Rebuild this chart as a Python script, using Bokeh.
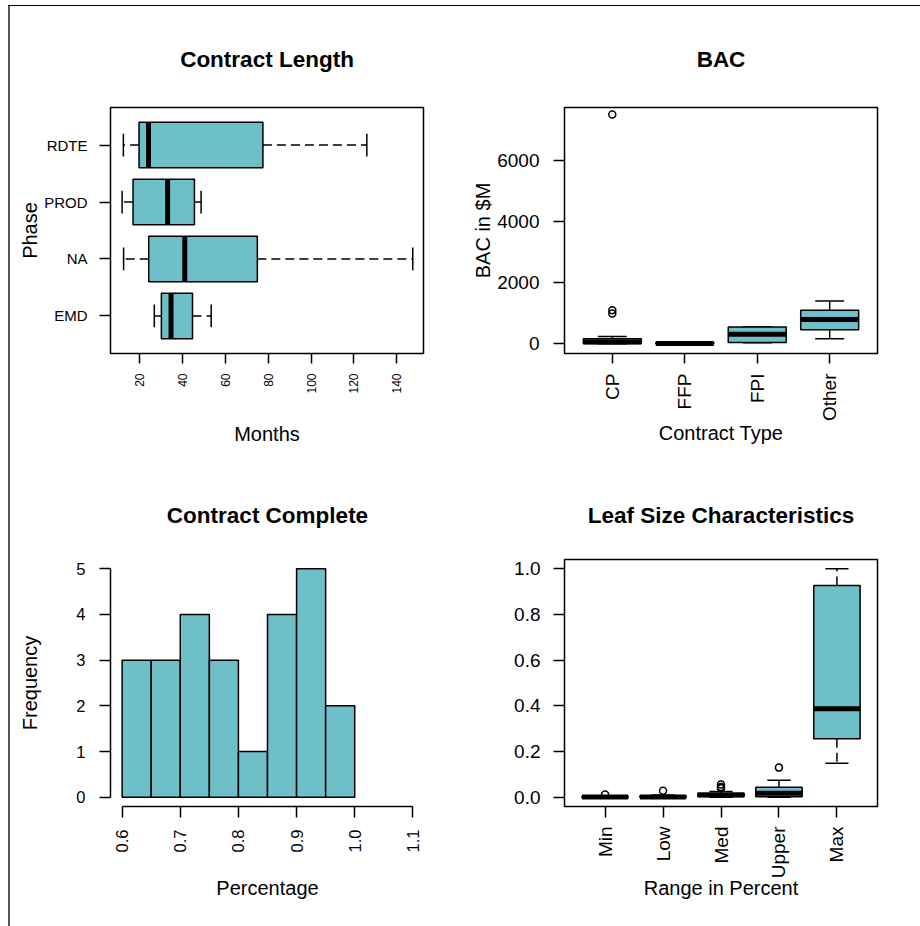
import math
from bokeh.plotting import figure
from bokeh.models import Range1d, FixedTicker, NumeralTickFormatter, Div
from bokeh.layouts import row, column
from bokeh.embed import file_html
from bokeh.resources import INLINE

FILL = "#6FBFC8"
FONT = "Liberation Sans"
DASH = "9 5"

# ---- Panel 1: Contract Length (horizontal boxplot) ----
phase = ["EMD", "NA", "PROD", "RDTE"]
phase_lo = [27.0, 12.7, 12.0, 12.6]
phase_q1 = [30.3, 24.4, 17.1, 19.9]
phase_med = [34.8, 41.2, 33.2, 24.3]
phase_q3 = [44.8, 75.0, 45.7, 77.6]
phase_hi = [53.5, 147.4, 48.8, 126.0]
months_ticks = [20, 40, 60, 80, 100, 120, 140]

# ---- Panel 2: BAC (vertical boxplot) ----
ctype = ["CP", "FFP", "FPI", "Other"]
bac_lo = [0, 0, 30, 165]
bac_q1 = [10, 2, 40, 460]
bac_med = [60, 10, 310, 790]
bac_q3 = [160, 30, 550, 1097]
bac_hi = [240, 45, 560, 1400]
bac_out_group = ["CP", "CP", "CP"]
bac_out = [990, 1100, 7510]
bac_ticks = [0, 2000, 4000, 6000]

# ---- Panel 3: Contract Complete (histogram) ----
pct_edges = [0.60, 0.65, 0.70, 0.75, 0.80, 0.85, 0.90, 0.95, 1.00]
pct_counts = [3, 3, 4, 3, 1, 4, 5, 2]
pct_ticks = [0.6, 0.7, 0.8, 0.9, 1.0, 1.1]
freq_ticks = [0, 1, 2, 3, 4, 5]

# ---- Panel 4: Leaf Size Characteristics (vertical boxplot) ----
rng = ["Min", "Low", "Med", "Upper", "Max"]
leaf_lo = [0.0, 0.0, 0.0, 0.0, 0.149]
leaf_q1 = [0.0, 0.0, 0.004, 0.003, 0.256]
leaf_med = [0.001, 0.001, 0.010, 0.018, 0.387]
leaf_q3 = [0.004, 0.006, 0.018, 0.044, 0.926]
leaf_hi = [0.006, 0.010, 0.026, 0.075, 1.0]
leaf_out_group = ["Min", "Low", "Med", "Med", "Med", "Upper"]
leaf_out = [0.012, 0.029, 0.040, 0.045, 0.056, 0.130]
leaf_ticks = [0.0, 0.2, 0.4, 0.6, 0.8, 1.0]

BW = 0.8
UP = math.pi / 2


def base_fig(w, h, bl, br, bt, bb, xr, yr, title, tstand):
    p = figure(width=w, height=h, x_range=xr, y_range=yr,
               output_backend="svg", toolbar_location=None,
               min_border_left=bl, min_border_right=br,
               min_border_top=bt, min_border_bottom=bb)
    p.title.text = title
    p.title.text_font = FONT
    p.title.text_font_size = "22.5px"
    p.title.text_font_style = "bold"
    p.title.text_color = "black"
    p.title.align = "center"
    p.title.standoff = tstand
    p.xgrid.visible = False
    p.ygrid.visible = False
    p.outline_line_color = "black"
    p.outline_line_width = 1.5
    p.background_fill_color = "white"
    p.border_fill_color = "white"
    for ax in (p.xaxis[0], p.yaxis[0]):
        ax.axis_line_color = None
        ax.major_tick_in = 0
        ax.major_tick_out = 10
        ax.major_tick_line_width = 1.5
        ax.minor_tick_line_color = None
        ax.major_label_text_font = FONT
        ax.major_label_text_color = "black"
        ax.axis_label_text_font = FONT
        ax.axis_label_text_font_style = "normal"
        ax.axis_label_text_font_size = "20px"
        ax.axis_label_text_color = "black"
    return p


def vboxes(p, cats, lo, q1, med, q3, hi, out_group=None, out=None):
    pos = [i + 1 for i in range(len(cats))]
    half = [x - BW / 4 for x in pos]
    halfr = [x + BW / 4 for x in pos]
    p.segment(x0=pos, x1=pos, y0=q3, y1=hi, line_color="black", line_width=1.5, line_dash=DASH)
    p.segment(x0=pos, x1=pos, y0=q1, y1=lo, line_color="black", line_width=1.5, line_dash=DASH)
    p.segment(x0=half, x1=halfr, y0=hi, y1=hi, line_color="black", line_width=1.5)
    p.segment(x0=half, x1=halfr, y0=lo, y1=lo, line_color="black", line_width=1.5)
    p.vbar(x=pos, width=BW, bottom=q1, top=q3, fill_color=FILL, line_color="black", line_width=1.5)
    p.segment(x0=[x - BW / 2 for x in pos], x1=[x + BW / 2 for x in pos], y0=med, y1=med,
              line_color="black", line_width=5)
    if out is not None:
        ox = [cats.index(g) + 1 for g in out_group]
        p.scatter(x=ox, y=out, marker="circle", size=7, fill_color=None,
                  line_color="black", line_width=1.5)
    p.xaxis.ticker = FixedTicker(ticks=pos)
    p.xaxis.major_label_overrides = {k: c for k, c in zip(pos, cats)}
    p.xaxis.major_label_orientation = UP


# Panel 1
n1 = len(phase)
p1 = base_fig(450, 460, 100, 37, 101, 113, Range1d(6.6, 152.4), Range1d(0.34, 4.66),
              "Contract Length", 72)
pos1 = [i + 1 for i in range(n1)]
p1.segment(x0=phase_q3, x1=phase_hi, y0=pos1, y1=pos1, line_color="black", line_width=1.5, line_dash=DASH)
p1.segment(x0=phase_q1, x1=phase_lo, y0=pos1, y1=pos1, line_color="black", line_width=1.5, line_dash=DASH)
p1.segment(x0=phase_hi, x1=phase_hi, y0=[y - BW / 4 for y in pos1], y1=[y + BW / 4 for y in pos1],
           line_color="black", line_width=1.5)
p1.segment(x0=phase_lo, x1=phase_lo, y0=[y - BW / 4 for y in pos1], y1=[y + BW / 4 for y in pos1],
           line_color="black", line_width=1.5)
p1.hbar(y=pos1, height=BW, left=phase_q1, right=phase_q3, fill_color=FILL, line_color="black", line_width=1.5)
p1.segment(x0=phase_med, x1=phase_med, y0=[y - BW / 2 for y in pos1], y1=[y + BW / 2 for y in pos1],
           line_color="black", line_width=5)
p1.yaxis.ticker = FixedTicker(ticks=pos1)
p1.yaxis.major_label_overrides = {k: c for k, c in zip(pos1, phase)}
p1.xaxis.ticker = FixedTicker(ticks=months_ticks)
p1.xaxis.major_label_orientation = UP
p1.xaxis.major_label_text_font_size = "12px"
p1.yaxis.major_label_text_font_size = "15px"
p1.xaxis.major_label_standoff = 10
p1.yaxis.major_tick_out = 11
p1.yaxis.major_label_standoff = 12
p1.xaxis.axis_label = "Months"
p1.yaxis.axis_label = "Phase"
p1.xaxis.axis_label_standoff = 26
p1.yaxis.axis_label_standoff = 0

# Panel 2
p2 = base_fig(460, 460, 104, 43, 101, 113, Range1d(0.34, 4.66), Range1d(-320, 7740), "BAC", 72)
vboxes(p2, ctype, bac_lo, bac_q1, bac_med, bac_q3, bac_hi, bac_out_group, bac_out)
p2.yaxis.ticker = FixedTicker(ticks=bac_ticks)
p2.xaxis.major_label_text_font_size = "19px"
p2.yaxis.major_label_text_font_size = "19px"
p2.xaxis.major_label_standoff = 10
p2.yaxis.major_tick_out = 11
p2.yaxis.major_label_standoff = 14
p2.xaxis.axis_label = "Contract Type"
p2.yaxis.axis_label = "BAC in $M"
p2.xaxis.axis_label_standoff = -2
p2.yaxis.axis_label_standoff = 0

# Panel 3
p3 = base_fig(450, 460, 100, 36, 93, 120, Range1d(0.58, 1.12), Range1d(-0.2, 5.2), "Contract Complete", 63)
p3.outline_line_color = None
p3.quad(left=pct_edges[:-1], right=pct_edges[1:], bottom=0, top=pct_counts,
        fill_color=FILL, line_color="black", line_width=1.5)
for ax in (p3.xaxis[0], p3.yaxis[0]):
    ax.axis_line_color = "black"
    ax.axis_line_width = 1.5
    ax.major_tick_out = 11
    ax.major_label_text_font_size = "16.5px"
p3.xaxis.ticker = FixedTicker(ticks=pct_ticks)
p3.xaxis.formatter = NumeralTickFormatter(format="0.0")
p3.xaxis.bounds = (pct_ticks[0], pct_ticks[-1])
p3.yaxis.ticker = FixedTicker(ticks=freq_ticks)
p3.yaxis.bounds = (freq_ticks[0], freq_ticks[-1])
p3.xaxis.major_label_orientation = UP
p3.xaxis.major_label_standoff = 12
p3.yaxis.major_label_standoff = 14
p3.xaxis.axis_label = "Percentage"
p3.yaxis.axis_label = "Frequency"
p3.xaxis.axis_label_standoff = 22
p3.yaxis.axis_label_standoff = 32

# Panel 4
p4 = base_fig(460, 460, 104, 43, 93, 120, Range1d(0.3, 5.7), Range1d(-0.04, 1.04),
              "Leaf Size Characteristics", 63)
vboxes(p4, rng, leaf_lo, leaf_q1, leaf_med, leaf_q3, leaf_hi, leaf_out_group, leaf_out)
p4.yaxis.ticker = FixedTicker(ticks=leaf_ticks)
p4.yaxis.formatter = NumeralTickFormatter(format="0.0")
p4.xaxis.major_label_text_font_size = "19px"
p4.yaxis.major_label_text_font_size = "19px"
p4.xaxis.major_tick_out = 11
p4.xaxis.major_label_standoff = 9
p4.yaxis.major_tick_out = 11
p4.yaxis.major_label_standoff = 13
p4.xaxis.axis_label = "Range in Percent"
p4.xaxis.axis_label_standoff = -4

top_gap = Div(text="", width=920, height=5, margin=0)
top_line = row(Div(text="", width=8, height=1, margin=0),
               Div(text="", width=912, height=1, margin=0, styles={"background-color": "#000000"}))
left_gap = Div(text="", width=8, height=920, margin=0)
left_line = Div(text="", width=2, height=920, margin=0, styles={"background-color": "#555555"})
grid = column(row(p1, p2), row(p3, p4))
page = column(top_gap, top_line, row(left_gap, left_line, grid))

open("out.html", "w").write(file_html(page, INLINE))
